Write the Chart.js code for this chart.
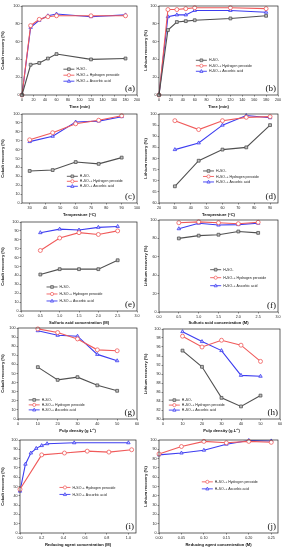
<!DOCTYPE html>
<html>
<head>
<meta charset="utf-8">
<script src="https://cdn.jsdelivr.net/npm/chart.js@4.4.0/dist/chart.umd.min.js"></script>
<style>
  body { margin: 0; background: #fff; width: 287px; height: 550px; position: relative; overflow: hidden; }
  canvas { position: absolute; }
</style>
</head>
<body>
<script>
// ---- data ----
var timeMin = [0, 15, 30, 45, 60, 120, 180];
var coTimeAcid = [0, 34, 36, 41, 46, 40, 41];
var coTimePeroxide = [0, 78, 85, 88, 89, 89, 89];
var coTimeAscorbic = [0, 76, 84, 89, 91, 88, 90];
var liTimeAcid = [0, 73, 82, 83, 84, 86, 89];
var liTimePeroxide = [0, 96, 96, 97, 98, 98, 97];
var liTimeAscorbic = [0, 88, 90, 90, 95, 95, 93];

var tempC = [30, 45, 60, 75, 90];
var coTempAcid = [36, 37, 46, 44, 51];
var coTempPeroxide = [71, 79, 89, 93, 98];
var coTempAscorbic = [69, 75, 91, 92, 97];
var liTempAcid = [67.5, 79, 84, 85, 95];
var liTempPeroxide = [97, 93, 97, 98.5, 98.8];
var liTempAscorbic = [84, 87, 95, 99.3, 98.3];

var acidM = [0.5, 1.0, 1.5, 2.0, 2.5];
var coAcidAcid = [41, 47, 47, 47, 57];
var coAcidPeroxide = [68, 82, 88, 86, 90];
var coAcidAscorbic = [88, 92, 91, 94, 95];
var liAcidAcid = [80, 83, 84, 87.5, 86];
var liAcidPeroxide = [97, 98, 97, 96, 97.5];
var liAcidAscorbic = [90.5, 96.5, 94.5, 95, 96.5];

var pulpGL = [10, 20, 30, 40, 50];
var coPulpAcid = [57, 43, 46, 37, 31];
var coPulpPeroxide = [99, 95, 88, 76, 75];
var coPulpAscorbic = [97, 92, 91, 71, 64];
var liPulpAcid = [95.2, 91.6, 84.7, 82.8, 85.2];
var liPulpPeroxide = [98.4, 96, 97.5, 96.4, 92.8];
var liPulpAscorbic = [99.4, 97.2, 95.2, 89.7, 89.5];

var coReducerPeroxideM = [0, 0.2, 0.41, 0.62, 0.82, 1.03];
var coReducerPeroxide = [47, 84, 86, 88, 87, 89.5];
var coReducerAscorbicM = [0, 0.05, 0.1, 0.15, 0.2, 0.25, 0.5, 1.0];
var coReducerAscorbic = [45, 74, 86, 91, 94, 96, 97, 97];
var liReducerM = [0, 0.05, 0.1, 0.15, 0.2, 0.25];
var liReducerPeroxide = [85, 93, 98.5, 97, 98.5, 97.5];
var liReducerAscorbic = [84, 86, 89, 95.5, 99.5, 99];

// tick labels
var ticksTime = [0, 20, 40, 60, 80, 100, 120, 140, 160, 180, 200];
var ticksTempCo = [30, 40, 50, 60, 70, 80, 90, 100];
var ticksTempLi = [20, 30, 40, 50, 60, 70, 80, 90];
var ticksAcid = [0, 0.5, 1.0, 1.5, 2.0, 2.5, 3.0];
var ticksPulp = [0, 10, 20, 30, 40, 50, 60];
var ticksReducerCo = [0, 0.2, 0.4, 0.6, 0.8, 1.0];
var ticksReducerLi = [0, 0.05, 0.1, 0.15, 0.2, 0.25];
var ticksPct20 = [0, 20, 40, 60, 80, 100];
var ticksPct10 = [0, 10, 20, 30, 40, 50, 60, 70, 80, 90, 100];
var ticksPctLiTemp = [60, 65, 70, 75, 80, 85, 90, 95, 100];
var ticksPctLiPulp = [80, 82, 84, 86, 88, 90, 92, 94, 96, 98, 100];

var FONT = '"Liberation Sans", Arial, sans-serif';

var acidStyle = {label: 'H₂SO₄', color: '#505050', fill: '#c0c0c0', marker: 'rect'};
var peroxideStyle = {label: 'H₂SO₄+ Hydrogen peroxide', color: '#f05a5a', fill: '#ffffff', marker: 'circle'};
var ascorbicStyle = {label: 'H₂SO₄+ Ascorbic acid', color: '#3c3cf0', fill: '#c8c8ff', marker: 'triangle'};

function series(style, xs, ys) {
  return {
    label: style.label,
    data: xs.map(function (x, i) { return {x: x, y: ys[i]}; }),
    borderColor: style.color,
    backgroundColor: style.fill,
    pointBackgroundColor: style.fill,
    pointBorderColor: style.color,
    pointStyle: style.marker,
    borderWidth: 1.1,
    pointRadius: 2,
    pointBorderWidth: 0.8,
    pointHoverRadius: 2,
    tension: 0,
    clip: 4
  };
}

function marker(ctx, type, x, y, r) {
  ctx.beginPath();
  if (type === 'rect') {
    ctx.rect(x - r * 0.85, y - r * 0.85, r * 1.7, r * 1.7);
  } else if (type === 'triangle') {
    ctx.moveTo(x, y - r * 1.1);
    ctx.lineTo(x + r, y + r * 0.7);
    ctx.lineTo(x - r, y + r * 0.7);
    ctx.closePath();
  } else {
    ctx.arc(x, y, r, 0, Math.PI * 2);
  }
  ctx.fill();
  ctx.stroke();
}

// frame, in-plot legend and panel letter
var framePlugin = {
  id: 'frame',
  afterDraw: function (chart) {
    var a = chart.chartArea, ctx = chart.ctx, o = chart.options.plugins.frame;
    ctx.save();
    ctx.strokeStyle = '#222';
    ctx.lineWidth = 0.7;
    ctx.strokeRect(a.left, a.top, a.right - a.left, a.bottom - a.top);

    ctx.font = '3.5px ' + FONT;
    ctx.textBaseline = 'middle';
    chart.data.datasets.forEach(function (ds, i) {
      var x = a.left + o.lx * (a.right - a.left);
      var y = a.top + o.ly * (a.bottom - a.top) + i * o.gap;
      ctx.strokeStyle = ds.borderColor;
      ctx.lineWidth = 0.9;
      ctx.beginPath();
      ctx.moveTo(x, y);
      ctx.lineTo(x + 11, y);
      ctx.stroke();
      ctx.fillStyle = ds.pointBackgroundColor;
      ctx.lineWidth = 0.7;
      marker(ctx, ds.pointStyle, x + 5.5, y, 1.6);
      ctx.fillStyle = '#222';
      ctx.fillText(ds.label, x + 13, y + 0.2);
    });

    ctx.font = '9px "Liberation Serif", "Times New Roman", serif';
    ctx.fillStyle = '#111';
    ctx.textAlign = 'right';
    ctx.textBaseline = 'bottom';
    ctx.fillText(o.tag, a.right - 2, a.bottom - 1.5);
    ctx.restore();
  }
};

function axis(min, max, ticks, decimals, title, size, horizontal) {
  return {
    type: 'linear',
    min: min,
    max: max,
    afterBuildTicks: function (s) { s.ticks = ticks.map(function (v) { return {value: v}; }); },
    afterFit: function (s) { if (horizontal) { s.height = size; } else { s.width = size; } },
    grid: {display: true, drawOnChartArea: false, drawTicks: true, tickLength: 1.5, color: '#222', lineWidth: 0.5},
    border: {display: false},
    ticks: {
      font: {size: 3.7, family: FONT},
      color: '#222',
      padding: 1,
      maxRotation: 0,
      autoSkip: false,
      callback: function (v) { return Number(v).toFixed(decimals); }
    },
    title: {display: true, text: title, font: {size: 4.1, weight: 'bold', family: FONT}, color: '#111', padding: {top: 0, bottom: 1}}
  };
}

function makePanel(box, plot, xs, ys, datasets, legend) {
  var c = document.createElement('canvas');
  c.width = box.w;
  c.height = box.h;
  c.style.left = box.x + 'px';
  c.style.top = box.y + 'px';
  document.body.appendChild(c);
  new Chart(c, {
    type: 'line',
    data: {datasets: datasets},
    options: {
      responsive: false,
      animation: false,
      events: [],
      layout: {autoPadding: false, padding: {top: plot.t - box.y, right: box.x + box.w - plot.r, left: 0, bottom: 0}},
      plugins: {legend: {display: false}, tooltip: {enabled: false}, frame: legend},
      scales: {
        x: axis(xs.min, xs.max, xs.ticks, xs.dec, xs.title, box.y + box.h - plot.b, true),
        y: axis(ys.min, ys.max, ys.ticks, 0, ys.title, plot.l - box.x, false)
      }
    },
    plugins: [framePlugin]
  });
}

var coTitle = 'Cobalt recovery (%)';
var liTitle = 'Lithium recovery (%)';

// (a)
makePanel({x: 0, y: 0, w: 143, h: 110}, {l: 22, r: 137, t: 6, b: 95},
  {min: 0, max: 200, ticks: ticksTime, dec: 0, title: 'Time (min)'},
  {min: 0, max: 100, ticks: ticksPct20, title: coTitle},
  [series(acidStyle, timeMin, coTimeAcid), series(peroxideStyle, timeMin, coTimePeroxide), series(ascorbicStyle, timeMin, coTimeAscorbic)],
  {lx: 0.36, ly: 0.71, gap: 6, tag: '(a)'});
// (b)
makePanel({x: 143, y: 0, w: 144, h: 110}, {l: 159, r: 278, t: 6, b: 95},
  {min: 0, max: 200, ticks: ticksTime, dec: 0, title: 'Time (min)'},
  {min: 0, max: 100, ticks: ticksPct20, title: liTitle},
  [series(acidStyle, timeMin, liTimeAcid), series(peroxideStyle, timeMin, liTimePeroxide), series(ascorbicStyle, timeMin, liTimeAscorbic)],
  {lx: 0.31, ly: 0.61, gap: 5.5, tag: '(b)'});
// (c)
makePanel({x: 0, y: 108, w: 143, h: 110}, {l: 22, r: 137, t: 114, b: 203},
  {min: 25, max: 100, ticks: ticksTempCo, dec: 0, title: 'Temperature (°C)'},
  {min: 0, max: 100, ticks: ticksPct10, title: coTitle},
  [series(acidStyle, tempC, coTempAcid), series(peroxideStyle, tempC, coTempPeroxide), series(ascorbicStyle, tempC, coTempAscorbic)],
  {lx: 0.39, ly: 0.70, gap: 5, tag: '(c)'});
// (d)
makePanel({x: 143, y: 108, w: 144, h: 110}, {l: 159, r: 278, t: 114, b: 203},
  {min: 20, max: 95, ticks: ticksTempLi, dec: 0, title: 'Temperature (°C)'},
  {min: 60, max: 100, ticks: ticksPctLiTemp, title: liTitle},
  [series(acidStyle, tempC, liTempAcid), series(peroxideStyle, tempC, liTempPeroxide), series(ascorbicStyle, tempC, liTempAscorbic)],
  {lx: 0.37, ly: 0.64, gap: 5.5, tag: '(d)'});
// (e)
makePanel({x: 0, y: 216, w: 143, h: 110}, {l: 21, r: 137, t: 222, b: 311},
  {min: 0, max: 3, ticks: ticksAcid, dec: 1, title: 'Sulfuric acid concentration (M)'},
  {min: 0, max: 100, ticks: ticksPct10, title: coTitle},
  [series(acidStyle, acidM, coAcidAcid), series(peroxideStyle, acidM, coAcidPeroxide), series(ascorbicStyle, acidM, coAcidAscorbic)],
  {lx: 0.22, ly: 0.73, gap: 7, tag: '(e)'});
// (f)
makePanel({x: 143, y: 216, w: 144, h: 110}, {l: 159, r: 278, t: 220, b: 312},
  {min: 0, max: 3, ticks: ticksAcid, dec: 1, title: 'Sulfuric acid concentration (M)'},
  {min: 0, max: 100, ticks: ticksPct20, title: liTitle},
  [series(acidStyle, acidM, liAcidAcid), series(peroxideStyle, acidM, liAcidPeroxide), series(ascorbicStyle, acidM, liAcidAscorbic)],
  {lx: 0.43, ly: 0.54, gap: 8, tag: '(f)'});
// (g)
makePanel({x: 0, y: 322, w: 143, h: 112}, {l: 18, r: 137, t: 328, b: 419},
  {min: 0, max: 60, ticks: ticksPulp, dec: 0, title: 'Pulp density (g L⁻¹)'},
  {min: 0, max: 100, ticks: ticksPct10, title: coTitle},
  [series(acidStyle, pulpGL, coPulpAcid), series(peroxideStyle, pulpGL, coPulpPeroxide), series(ascorbicStyle, pulpGL, coPulpAscorbic)],
  {lx: 0.09, ly: 0.79, gap: 5, tag: '(g)'});
// (h)
makePanel({x: 143, y: 322, w: 144, h: 112}, {l: 163, r: 280, t: 329, b: 419},
  {min: 0, max: 60, ticks: ticksPulp, dec: 0, title: 'Pulp density (g.L⁻¹)'},
  {min: 80, max: 100, ticks: ticksPctLiPulp, title: liTitle},
  [series(acidStyle, pulpGL, liPulpAcid), series(peroxideStyle, pulpGL, liPulpPeroxide), series(ascorbicStyle, pulpGL, liPulpAscorbic)],
  {lx: 0.05, ly: 0.79, gap: 5, tag: '(h)'});
// (i)
makePanel({x: 0, y: 434, w: 143, h: 114}, {l: 20, r: 136, t: 440, b: 533},
  {min: 0, max: 1.07, ticks: ticksReducerCo, dec: 1, title: 'Reducing agent concentration (M)'},
  {min: 0, max: 100, ticks: ticksPct10, title: coTitle},
  [series(peroxideStyle, coReducerPeroxideM, coReducerPeroxide), series(ascorbicStyle, coReducerAscorbicM, coReducerAscorbic)],
  {lx: 0.34, ly: 0.51, gap: 7, tag: '(i)'});
// (j)
makePanel({x: 143, y: 434, w: 144, h: 114}, {l: 159, r: 278, t: 440, b: 533},
  {min: 0, max: 0.265, ticks: ticksReducerLi, dec: 2, title: 'Reducing agent concentration (M)'},
  {min: 0, max: 100, ticks: ticksPct10, title: liTitle},
  [series(peroxideStyle, liReducerM, liReducerPeroxide), series(ascorbicStyle, liReducerM, liReducerAscorbic)],
  {lx: 0.36, ly: 0.45, gap: 7, tag: '(j)'});
</script>
</body>
</html>
